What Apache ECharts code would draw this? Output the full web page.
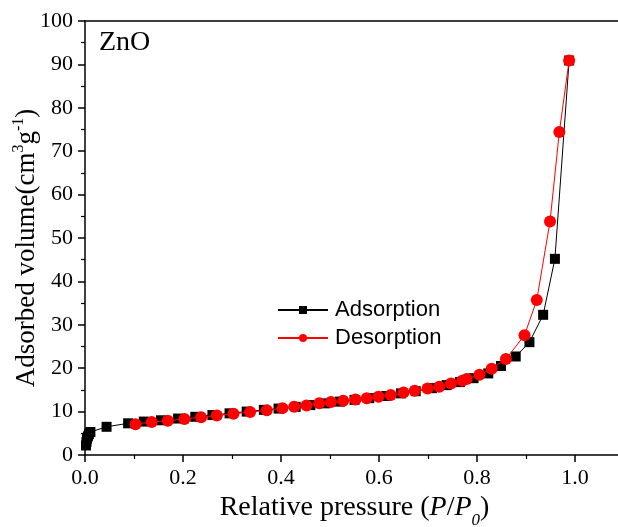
<!DOCTYPE html>
<html>
<head>
<meta charset="utf-8">
<script src="https://cdn.jsdelivr.net/npm/echarts@6/dist/echarts.min.js"></script>
<style>html,body{margin:0;padding:0;background:#fff}#c{width:618px;height:527px}</style>
</head>
<body>
<div id="c"></div>
<script>
const adsX = [0.002,0.003,0.004,0.006,0.008,0.011,0.044,0.088,0.12,0.155,0.19,0.225,0.26,0.295,0.33,0.365,0.395,0.43,0.46,0.49,0.52,0.55,0.58,0.615,0.645,0.675,0.708,0.738,0.765,0.793,0.823,0.849,0.879,0.907,0.935,0.959,0.988];
const adsY = [2.2,3.0,3.7,4.3,4.8,5.3,6.5,7.3,7.7,8.0,8.4,8.8,9.2,9.6,10.0,10.4,10.7,11.1,11.5,11.9,12.3,12.7,13.1,13.6,14.2,14.7,15.4,16.1,16.8,17.7,18.8,20.5,22.7,26.0,32.3,45.2,90.9];
const desX = [0.988,0.968,0.949,0.922,0.897,0.859,0.83,0.805,0.779,0.77,0.747,0.723,0.699,0.673,0.65,0.624,0.599,0.575,0.552,0.527,0.502,0.478,0.452,0.427,0.403,0.371,0.337,0.303,0.269,0.237,0.203,0.169,0.136,0.103];
const desY = [90.9,74.4,53.8,35.7,27.6,22.1,19.9,18.5,17.5,17.1,16.5,15.7,15.3,14.8,14.4,13.8,13.4,13.1,12.8,12.5,12.2,11.9,11.4,11.1,10.8,10.3,9.9,9.5,9.1,8.7,8.3,7.9,7.6,7.1];
const xTickLabels = ['0.0','0.2','0.4','0.6','0.8','1.0'];
const yTickLabels = ['0','10','20','30','40','50','60','70','80','90','100'];

const serif = 'Liberation Serif, Times New Roman, serif';
const sans = 'Liberation Sans, Arial, sans-serif';
const chart = echarts.init(document.getElementById('c'));
chart.setOption({
  animation: false,
  backgroundColor: '#fff',
  grid: {left: 85, top: 21, right: -6, bottom: 72, containLabel: false, outerBoundsMode: 'none'},
  graphic: [{type: 'text', left: 99, top: 29, style: {text: 'ZnO', font: '28px ' + serif, fill: '#000'}}],
  legend: {
    left: 277, top: 299, padding: 0, orient: 'vertical', itemWidth: 50, itemHeight: 10, itemGap: 6,
    textStyle: {fontFamily: sans, fontSize: 22, color: '#000', padding: [0,0,0,2]},
    data: ['Adsorption', 'Desorption']
  },
  xAxis: [{
    type: 'value', min: 0, max: 1.1, interval: 0.2,
    axisLine: {show: true, lineStyle: {color: '#000', width: 1.5}},
    axisTick: {show: true, length: 7, lineStyle: {color: '#000', width: 1.5}},
    minorTick: {show: true, splitNumber: 2, length: 4, lineStyle: {color: '#000', width: 1.2}},
    splitLine: {show: false},
    axisLabel: {fontFamily: serif, fontSize: 22, color: '#000', margin: 12,
      formatter: v => { const i = Math.round(v / 0.2); return Math.abs(v - i*0.2) < 1e-6 && i < xTickLabels.length ? xTickLabels[i] : ''; }},
    name: '{n|Relative pressure (}{i|P}{n|/}{i|P}{s|0}{n|)}',
    nameLocation: 'middle', nameGap: 37,
    nameTextStyle: {rich: {
      n: {fontFamily: serif, fontSize: 28, color: '#000', lineHeight: 30},
      i: {fontFamily: serif, fontSize: 28, fontStyle: 'italic', color: '#000', lineHeight: 30},
      s: {fontFamily: serif, fontSize: 17, fontStyle: 'italic', color: '#000', lineHeight: 17, verticalAlign: 'bottom', padding: [0,0,-6,0]}
    }}
  }, {
    type: 'value', position: 'top', min: 0, max: 1.1,
    axisLine: {show: true, onZero: false, lineStyle: {color: '#000', width: 1.5}},
    axisTick: {show: false}, axisLabel: {show: false}, splitLine: {show: false}
  }],
  yAxis: {
    type: 'value', min: 0, max: 100, interval: 10,
    axisLine: {show: true, lineStyle: {color: '#000', width: 1.5}},
    axisTick: {show: true, length: 7, lineStyle: {color: '#000', width: 1.5}},
    minorTick: {show: true, splitNumber: 2, length: 4, lineStyle: {color: '#000', width: 1.2}},
    splitLine: {show: false},
    axisLabel: {fontFamily: serif, fontSize: 22, color: '#000', margin: 12,
      formatter: v => yTickLabels[Math.round(v / 10)]},
    name: '{n|Adsorbed volume(cm}{s|3}{n|g}{s|-1}{n|)}',
    nameLocation: 'middle', nameGap: 42, nameRotate: 90, nameMoveOverlap: false,
    nameTextStyle: {padding: [0, 20, 0, 0], rich: {
      n: {fontFamily: serif, fontSize: 27, color: '#000', lineHeight: 32},
      s: {fontFamily: serif, fontSize: 16, color: '#000', lineHeight: 16, verticalAlign: 'top'}
    }}
  },
  series: [{
    name: 'Adsorption', type: 'line', xAxisIndex: 0,
    data: adsX.map((x, i) => [x, adsY[i]]),
    symbol: 'rect', symbolSize: 10,
    lineStyle: {color: '#000', width: 1}, itemStyle: {color: '#000'},
    z: 2
  }, {
    name: 'Desorption', type: 'line', xAxisIndex: 0,
    data: desX.map((x, i) => [x, desY[i]]),
    symbol: 'circle', symbolSize: 12,
    lineStyle: {color: '#ff0000', width: 1}, itemStyle: {color: '#ff0000'},
    z: 3
  }]
});
</script>
</body>
</html>
